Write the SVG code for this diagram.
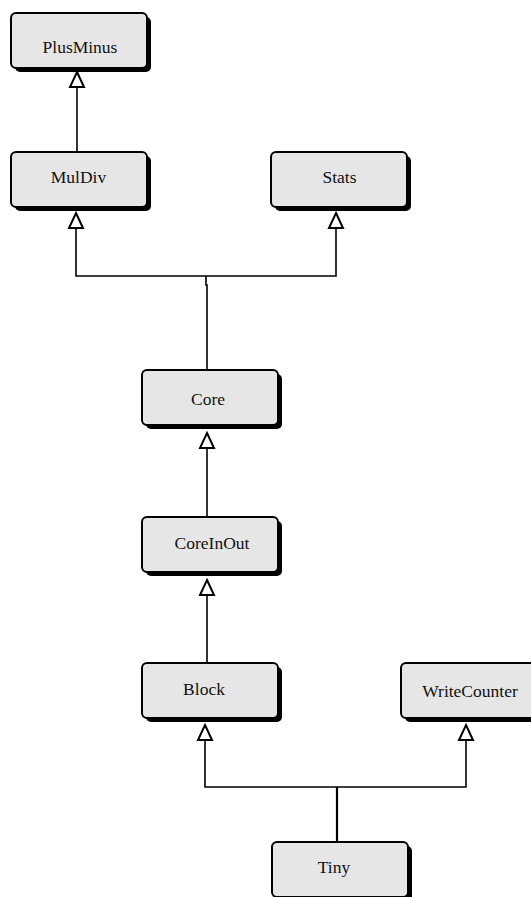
<svg xmlns="http://www.w3.org/2000/svg" width="531" height="897" viewBox="0 0 531 897">
  <style>
    .shadow { fill: #000; }
    .box { fill: #e6e6e6; stroke: #000; stroke-width: 2; }
    .label { font-family: "Liberation Serif", "Times New Roman", serif; font-size: 17.5px; fill: #111; text-anchor: middle; }
    .edge { fill: none; stroke: #000; stroke-width: 1.6; }
    .head { fill: #fff; stroke: #000; stroke-width: 2; stroke-linejoin: miter; }
  </style>
  <defs>
    <!-- generalization arrowhead, tip at origin pointing up -->
    <path id="tri" d="M0,0 L7,15 L-7,15 Z"/>
  </defs>
  <rect width="531" height="897" fill="#fff"/>

  <g id="connectors">
    <!-- MulDiv -> PlusMinus -->
    <path class="edge" d="M77,152 V87"/>
    <use href="#tri" class="head" x="77" y="72"/>
    <!-- Core -> MulDiv, Stats -->
    <path class="edge" d="M207,370 V285 H206 V276"/>
    <path class="edge" d="M76,229 V276 H336 V229"/>
    <use href="#tri" class="head" x="76" y="213"/>
    <use href="#tri" class="head" x="336" y="213"/>
    <!-- CoreInOut -> Core -->
    <path class="edge" d="M207,517 V449"/>
    <use href="#tri" class="head" x="207" y="433"/>
    <!-- Block -> CoreInOut -->
    <path class="edge" d="M207,663 V595"/>
    <use href="#tri" class="head" x="207" y="580"/>
    <!-- Tiny -> Block, WriteCounter -->
    <path class="edge" d="M337,842 V787" style="stroke-width:2.2"/>
    <path class="edge" d="M205,740 V787 H466 V740"/>
    <use href="#tri" class="head" x="205" y="725"/>
    <use href="#tri" class="head" x="466" y="725"/>
  </g>

  <g id="PlusMinus">
    <rect class="shadow" x="15" y="17" width="136" height="55" rx="5"/>
    <rect class="box" x="11" y="13" width="136" height="55" rx="5"/>
    <text class="label" x="80" y="53">PlusMinus</text>
  </g>
  <g id="MulDiv">
    <rect class="shadow" x="15" y="156" width="136" height="55" rx="5"/>
    <rect class="box" x="11" y="152" width="136" height="55" rx="5"/>
    <text class="label" x="78.5" y="183">MulDiv</text>
  </g>
  <g id="Stats">
    <rect class="shadow" x="275" y="156" width="136" height="55" rx="5"/>
    <rect class="box" x="271" y="152" width="136" height="55" rx="5"/>
    <text class="label" x="339.5" y="183">Stats</text>
  </g>
  <g id="Core">
    <rect class="shadow" x="146" y="374" width="136" height="55" rx="5"/>
    <rect class="box" x="142" y="370" width="136" height="55" rx="5"/>
    <text class="label" x="208" y="405">Core</text>
  </g>
  <g id="CoreInOut">
    <rect class="shadow" x="146" y="521" width="136" height="55" rx="5"/>
    <rect class="box" x="142" y="517" width="136" height="55" rx="5"/>
    <text class="label" x="212" y="549">CoreInOut</text>
  </g>
  <g id="Block">
    <rect class="shadow" x="146" y="667" width="136" height="55" rx="5"/>
    <rect class="box" x="142" y="663" width="136" height="55" rx="5"/>
    <text class="label" x="204" y="695">Block</text>
  </g>
  <g id="WriteCounter">
    <rect class="shadow" x="405" y="667" width="136" height="55" rx="5"/>
    <rect class="box" x="401" y="663" width="136" height="55" rx="5"/>
    <text class="label" x="470" y="697">WriteCounter</text>
  </g>
  <g id="Tiny">
    <rect class="shadow" x="276" y="846" width="136" height="55" rx="5"/>
    <rect class="box" x="272" y="842" width="136" height="55" rx="5"/>
    <text class="label" x="334" y="873">Tiny</text>
  </g>
</svg>
